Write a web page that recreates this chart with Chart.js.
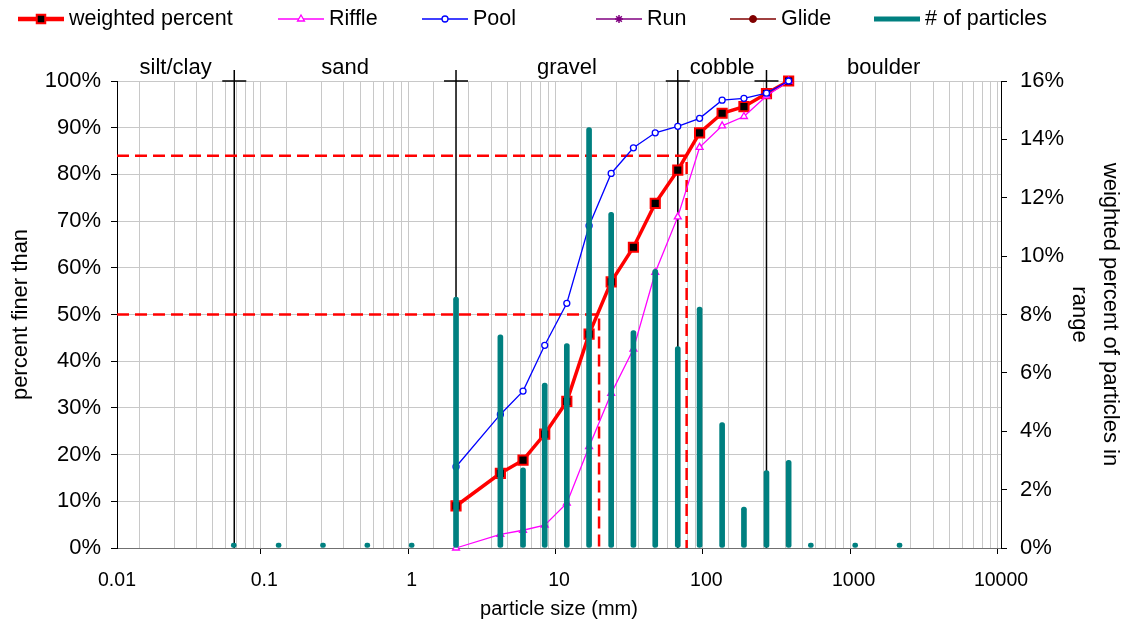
<!DOCTYPE html>
<html>
<head>
<meta charset="utf-8">
<title>Particle size distribution</title>
<script src="https://cdn.jsdelivr.net/npm/chart.js@4.4.1/dist/chart.umd.min.js"></script>
<style>
  body { margin: 0; background: #fff; }
  #grafico { display: block; }
</style>
</head>
<body>
<canvas id="grafico" width="1122" height="622"></canvas>
<script>
// Sieve sizes (mm) and the share of particles in each size class (right axis, %)
const particleSizes = [0.062, 0.125, 0.25, 0.5, 1, 2, 4, 5.7, 8, 11.3, 16, 22.6, 32, 45, 64, 90, 128, 180, 256, 362, 512, 1024, 2048];
const particlesPct = [0, 0, 0, 0, 0, 8.6, 7.3, 2.75, 5.65, 7.0, 14.4, 11.5, 7.45, 9.55, 6.9, 8.25, 4.3, 1.4, 2.65, 3.0, 0, 0, 0];

// Cumulative curves (left axis, percent finer than)
const curveSizes = [2, 4, 5.7, 8, 11.3, 16, 22.6, 32, 45, 64, 90, 128, 180, 256, 362];
const weightedPct = [9.0, 16.0, 18.8, 24.4, 31.4, 45.8, 57.0, 64.4, 73.8, 80.9, 88.9, 93.1, 94.5, 97.3, 100];
const rifflePct = [0, 2.9, 3.8, 4.9, 9.6, 21.7, 33.1, 42.6, 59.0, 70.9, 85.8, 90.4, 92.4, 96.8, 100];
const poolPct = [17.4, 28.6, 33.6, 43.4, 52.4, 69.0, 80.2, 85.7, 88.9, 90.3, 92.0, 95.9, 96.3, 97.4, 100];
const runPct = [];
const glidePct = [];

// D50 / D84 of the weighted curve (mm)
const d50 = 18.7;
const d84 = 73.5;

// Size classes
const classNames = ['silt/clay', 'sand', 'gravel', 'cobble', 'boulder'];
const classLimits = [0.01, 0.0625, 2, 64, 256, 10000];

const xTickLabels = ['0.01', '0.1', '1', '10', '100', '1000', '10000'];
const legendOrder = ['weighted percent', 'Riffle', 'Pool', 'Run', 'Glide', '# of particles'];

const FONT = '"Liberation Sans", Arial, sans-serif';
Chart.defaults.font.family = FONT;
Chart.defaults.color = '#000';

function aPuntos(xs, ys) {
    return ys.map((y, i) => ({ x: xs[i], y: y }));
}

function esDecada(v) {
    const l = Math.log10(v);
    return Math.abs(l - Math.round(l)) < 1e-9;
}

// Boundary lines, class names and legend
const clasesPlugin = {
    id: 'clases',
    beforeDatasetsDraw(chart) {
        const { ctx, chartArea, scales: { x } } = chart;
        ctx.save();
        ctx.strokeStyle = '#000';
        ctx.lineWidth = 1.5;
        classLimits.slice(1, -1).forEach(v => {
            const px = x.getPixelForValue(v);
            ctx.beginPath();
            ctx.moveTo(px, chartArea.bottom);
            ctx.lineTo(px, chartArea.top - 11);
            ctx.moveTo(px - 12, chartArea.top);
            ctx.lineTo(px + 12, chartArea.top);
            ctx.stroke();
        });
        ctx.restore();
    },
    afterDraw(chart) {
        const { ctx, scales: { x } } = chart;
        ctx.save();
        ctx.fillStyle = '#000';
        ctx.font = '22px ' + FONT;
        ctx.textAlign = 'center';
        ctx.textBaseline = 'alphabetic';
        classNames.forEach((nombre, i) => {
            const a = x.getPixelForValue(classLimits[i]);
            const b = x.getPixelForValue(classLimits[i + 1]);
            ctx.fillText(nombre, (a + b) / 2, 74);
        });

        // legend (entry slots as in the original layout)
        const inicios = [18, 278, 422, 596, 730, 874];
        const ly = 19;
        ctx.font = '21.5px ' + FONT;
        ctx.textAlign = 'left';
        ctx.textBaseline = 'middle';
        legendOrder.forEach((nombre, i) => {
            const ds = chart.data.datasets.find(d => d.label === nombre);
            const lx = inicios[i];
            ctx.strokeStyle = ds.borderColor;
            ctx.lineWidth = ds.anchoLeyenda;
            ctx.beginPath();
            ctx.moveTo(lx, ly);
            ctx.lineTo(lx + 46, ly);
            ctx.stroke();
            if (ds.pointStyle) {
                ctx.fillStyle = ds.pointBackgroundColor;
                ctx.strokeStyle = ds.pointBorderColor;
                ctx.lineWidth = ds.pointBorderWidth;
                Chart.helpers.drawPoint(ctx, {
                    pointStyle: ds.pointStyle,
                    radius: ds.radioLeyenda,
                    borderWidth: ds.pointBorderWidth,
                    rotation: 0
                }, lx + 23, ly);
            }
            ctx.fillStyle = '#000';
            ctx.fillText(ds.label, lx + 51, ly);
        });
        ctx.restore();
    }
};

const ctx = document.getElementById('grafico').getContext('2d');
new Chart(ctx, {
    type: 'line',
    data: {
        datasets: [
            {
                type: 'bar',
                label: '# of particles',
                data: aPuntos(particleSizes, particlesPct),
                yAxisID: 'y1',
                backgroundColor: '#008080',
                borderColor: '#008080',
                barThickness: 5,
                minBarLength: 5,
                borderRadius: 2.5,
                borderSkipped: false,
                grouped: false,
                order: 0,
                anchoLeyenda: 5
            },
            {
                label: 'Pool',
                data: aPuntos(curveSizes, poolPct),
                yAxisID: 'y',
                borderColor: '#0000ff',
                borderWidth: 1.3,
                pointStyle: 'circle',
                pointRadius: 3,
                pointBackgroundColor: '#ffffff',
                pointBorderColor: '#0000ff',
                pointBorderWidth: 1.3,
                tension: 0,
                clip: false,
                order: 1,
                anchoLeyenda: 1.5,
                radioLeyenda: 3
            },
            {
                label: 'Riffle',
                data: aPuntos(curveSizes, rifflePct),
                yAxisID: 'y',
                borderColor: '#ff00ff',
                borderWidth: 1.3,
                pointStyle: 'triangle',
                pointRadius: 4,
                pointBackgroundColor: '#ffffff',
                pointBorderColor: '#ff00ff',
                pointBorderWidth: 1.3,
                tension: 0,
                clip: false,
                order: 2,
                anchoLeyenda: 1.5,
                radioLeyenda: 4
            },
            {
                label: 'weighted percent',
                data: aPuntos(curveSizes, weightedPct),
                yAxisID: 'y',
                borderColor: '#ff0000',
                borderWidth: 3.5,
                pointStyle: 'rect',
                pointRadius: 6.5,
                pointBackgroundColor: '#000000',
                pointBorderColor: '#ff0000',
                pointBorderWidth: 2,
                tension: 0,
                clip: false,
                order: 3,
                anchoLeyenda: 4.5,
                radioLeyenda: 6
            },
            {
                label: 'Run',
                data: aPuntos(curveSizes, runPct),
                yAxisID: 'y',
                borderColor: '#800080',
                borderWidth: 1.5,
                pointStyle: 'star',
                pointRadius: 4,
                pointBackgroundColor: '#800080',
                pointBorderColor: '#800080',
                pointBorderWidth: 1.5,
                order: 3,
                anchoLeyenda: 1.5,
                radioLeyenda: 4
            },
            {
                label: 'Glide',
                data: aPuntos(curveSizes, glidePct),
                yAxisID: 'y',
                borderColor: '#800000',
                borderWidth: 1.5,
                pointStyle: 'circle',
                pointRadius: 3.5,
                pointBackgroundColor: '#800000',
                pointBorderColor: '#800000',
                pointBorderWidth: 1,
                order: 3,
                anchoLeyenda: 1.5,
                radioLeyenda: 3.5
            },
            {
                label: 'D50',
                data: [{ x: classLimits[0], y: 50 }, { x: d50, y: 50 }, { x: d50, y: 0 }],
                yAxisID: 'y',
                borderColor: '#ff0000',
                borderWidth: 2.5,
                borderDash: [12, 6],
                pointRadius: 0,
                tension: 0,
                order: 4
            },
            {
                label: 'D84',
                data: [{ x: classLimits[0], y: 84 }, { x: d84, y: 84 }, { x: d84, y: 0 }],
                yAxisID: 'y',
                borderColor: '#ff0000',
                borderWidth: 2.5,
                borderDash: [12, 6],
                pointRadius: 0,
                tension: 0,
                order: 4
            }
        ]
    },
    options: {
        responsive: false,
        animation: false,
        devicePixelRatio: 1,
        layout: { padding: { top: 81, left: 0, right: 0, bottom: 0 } },
        plugins: {
            legend: { display: false },
            tooltip: { enabled: false }
        },
        scales: {
            x: {
                type: 'logarithmic',
                min: classLimits[0],
                max: classLimits[classLimits.length - 1],
                offset: false,
                afterBuildTicks: (scale) => {
                    const ticks = [];
                    for (let e = -2; e <= 4; e++) {
                        for (let m = 1; m <= 9; m++) {
                            const v = parseFloat((m * Math.pow(10, e)).toPrecision(6));
                            if (v <= 10000) ticks.push({ value: v });
                        }
                    }
                    scale.ticks = ticks;
                },
                afterFit: (scale) => { scale.height = 74; },
                ticks: {
                    autoSkip: false,
                    maxRotation: 0,
                    padding: 15,
                    font: { size: 19.5 },
                    callback: function (value) {
                        if (!esDecada(value)) return '';
                        return xTickLabels[Math.round(Math.log10(value)) + 2];
                    }
                },
                grid: {
                    color: '#c8c8c8',
                    tickColor: (c) => (c.tick && esDecada(c.tick.value)) ? '#000' : 'rgba(0,0,0,0)',
                    tickLength: 6
                },
                border: { color: '#707070', width: 1 },
                title: {
                    display: true,
                    text: 'particle size (mm)',
                    font: { size: 20 },
                    padding: { top: 0, bottom: 1 }
                }
            },
            y: {
                position: 'left',
                min: 0,
                max: 100,
                afterFit: (scale) => { scale.width = 117; },
                ticks: {
                    stepSize: 10,
                    padding: 10,
                    font: { size: 22 },
                    callback: (v) => v + '%'
                },
                grid: { color: '#c8c8c8', tickColor: '#000', tickLength: 6 },
                border: { color: '#000', width: 1 },
                title: {
                    display: true,
                    text: 'percent finer than',
                    font: { size: 22 },
                    padding: { top: 8, bottom: 0 }
                }
            },
            y1: {
                position: 'right',
                min: 0,
                max: 16,
                afterFit: (scale) => { scale.width = 121; },
                ticks: {
                    stepSize: 2,
                    padding: 13,
                    font: { size: 22 },
                    callback: (v) => v + '%'
                },
                grid: { drawOnChartArea: false, tickColor: '#000', tickLength: 6 },
                border: { color: '#000', width: 1 },
                title: {
                    display: true,
                    text: ['weighted percent of particles in', 'range'],
                    font: { size: 22, lineHeight: 1.42 },
                    padding: { top: -4, bottom: 0 }
                }
            }
        }
    },
    plugins: [clasesPlugin]
});
</script>
</body>
</html>
